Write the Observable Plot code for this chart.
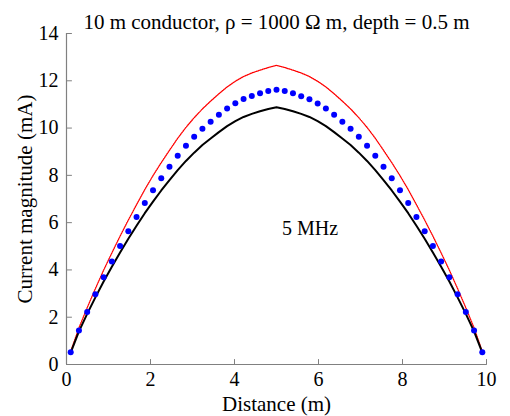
<!DOCTYPE html>
<html>
<head>
<meta charset="utf-8">
<script src="https://cdn.jsdelivr.net/npm/d3@7"></script>
<script src="https://cdn.jsdelivr.net/npm/@observablehq/plot@0.6"></script>
<style>
  html, body { margin: 0; padding: 0; background: white; }
</style>
</head>
<body>
<div id="chart"></div>
<script>
const titleText = "10 m conductor, ρ = 1000 Ω m, depth = 0.5 m";
const xLabel = "Distance (m)";
const yLabel = "Current magnitude (mA)";
const annotation = {label: "5 MHz", x: 5.8, y: 5.75};
const xTicks = [0, 2, 4, 6, 8, 10];
const yTicks = [0, 2, 4, 6, 8, 10, 12, 14];

const distance = [0.100, 0.296, 0.492, 0.688, 0.884, 1.080, 1.276, 1.472, 1.668, 1.864,
  2.060, 2.256, 2.452, 2.648, 2.844, 3.040, 3.236, 3.432, 3.628, 3.824,
  4.020, 4.216, 4.412, 4.608, 4.804, 5.000, 5.196, 5.392, 5.588, 5.784,
  5.980, 6.176, 6.372, 6.568, 6.764, 6.960, 7.156, 7.352, 7.548, 7.744,
  7.940, 8.136, 8.332, 8.528, 8.724, 8.920, 9.116, 9.312, 9.508, 9.704, 9.900];

const blueDots = [0.52, 1.44, 2.22, 2.97, 3.69, 4.36, 5.01, 5.64, 6.24, 6.83,
  7.37, 7.88, 8.36, 8.83, 9.25, 9.63, 9.97, 10.27, 10.56, 10.83,
  11.05, 11.23, 11.36, 11.47, 11.57, 11.62, 11.57, 11.47, 11.35, 11.22,
  11.04, 10.83, 10.56, 10.27, 9.97, 9.63, 9.25, 8.83, 8.36, 7.88,
  7.37, 6.83, 6.24, 5.64, 5.01, 4.36, 3.69, 2.97, 2.22, 1.44, 0.52];

const redLine = [0.55, 1.55, 2.40, 3.21, 3.99, 4.72, 5.43, 6.11, 6.76, 7.40,
  7.99, 8.54, 9.06, 9.57, 10.03, 10.44, 10.81, 11.14, 11.45, 11.74,
  11.98, 12.18, 12.33, 12.45, 12.56, 12.65, 12.56, 12.45, 12.33, 12.18,
  11.98, 11.74, 11.45, 11.14, 10.81, 10.44, 10.03, 9.57, 9.06, 8.54,
  7.99, 7.40, 6.76, 6.11, 5.43, 4.72, 3.99, 3.21, 2.40, 1.55, 0.55];

const blackLine = [0.50, 1.40, 2.14, 2.84, 3.51, 4.13, 4.74, 5.32, 5.87, 6.40,
  6.89, 7.36, 7.80, 8.22, 8.61, 8.96, 9.28, 9.56, 9.83, 10.08,
  10.29, 10.47, 10.60, 10.71, 10.81, 10.88, 10.81, 10.71, 10.60, 10.47,
  10.29, 10.08, 9.83, 9.56, 9.28, 8.96, 8.61, 8.22, 7.80, 7.36,
  6.89, 6.40, 5.87, 5.32, 4.74, 4.13, 3.51, 2.84, 2.14, 1.40, 0.50];

const rows = distance.map((d, i) => ({d, red: redLine[i], blue: blueDots[i], black: blackLine[i]}));

const font = "'Liberation Serif', 'Times New Roman', serif";
const axisGray = "#808080";
const tickShape = {
  draw(context, l) { context.moveTo(0, 0); context.lineTo(0, -l); }
};

const chart = Plot.plot({
  width: 510,
  height: 416,
  marginLeft: 66,
  marginRight: 24,
  marginTop: 33,
  marginBottom: 52,
  style: {fontFamily: font, fontSize: "20px", background: "white", color: "black"},
  x: {domain: [0, 10], label: null},
  y: {domain: [0, 14], label: null},
  marks: [
    Plot.ruleY([0], {stroke: axisGray, strokeWidth: 1.2}),
    Plot.ruleX([0], {stroke: axisGray, strokeWidth: 1.2}),
    Plot.vector(xTicks, {x: d => d, y: 0, length: 5, rotate: 0, anchor: "start", shape: tickShape, stroke: axisGray, strokeWidth: 1}),
    Plot.vector(yTicks, {x: 0, y: d => d, length: 5, rotate: 90, anchor: "start", shape: tickShape, stroke: axisGray, strokeWidth: 1}),
    Plot.axisX({ticks: xTicks, tickSize: 0, tickPadding: 7, fill: "black", label: null, fontSize: 20}),
    Plot.axisY({ticks: yTicks, tickSize: 0, tickPadding: 8, fill: "black", label: null, fontSize: 20}),
    Plot.line(rows, {x: "d", y: "red", stroke: "red", strokeWidth: 1.3, strokeDasharray: "1,1"}),
    Plot.line(rows, {x: "d", y: "black", stroke: "black", strokeWidth: 2}),
    Plot.dot(rows, {x: "d", y: "blue", r: 3, fill: "blue", stroke: "none"}),
    Plot.text([annotation], {x: "x", y: "y", text: "label", fontSize: 20, fill: "black"}),
    Plot.text([titleText], {frameAnchor: "top", lineAnchor: "middle", dy: -11, fontSize: 21, fill: "black"}),
    Plot.text([xLabel], {frameAnchor: "bottom", lineAnchor: "middle", dy: 40, fontSize: 21, fill: "black"}),
    Plot.text([yLabel], {frameAnchor: "left", textAnchor: "middle", lineAnchor: "middle", rotate: -90, dx: -41, fontSize: 21, fill: "black"})
  ]
});
document.getElementById("chart").appendChild(chart);
</script>
</body>
</html>
